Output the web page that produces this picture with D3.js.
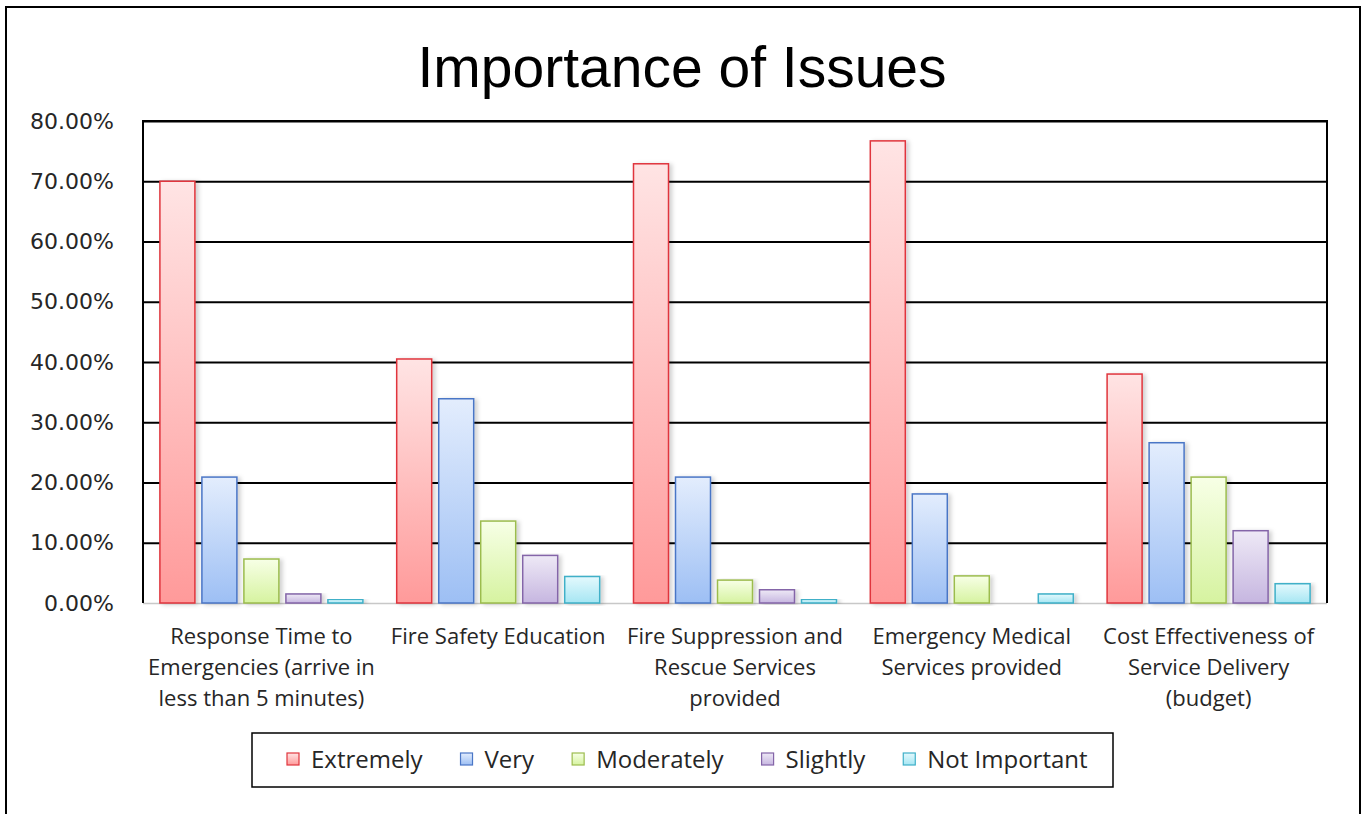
<!DOCTYPE html>
<html>
<head>
<meta charset="utf-8">
<script src="https://cdn.jsdelivr.net/npm/d3@7"></script>
<style>
  html, body { margin: 0; padding: 0; background: #fff; }
  svg { display: block; }
</style>
</head>
<body>
<svg id="chart" width="1363" height="814"></svg>
<script>
const categories = [
  ["Response Time to", "Emergencies (arrive in", "less than 5 minutes)"],
  ["Fire Safety Education"],
  ["Fire Suppression and", "Rescue Services", "provided"],
  ["Emergency Medical", "Services provided"],
  ["Cost Effectiveness of", "Service Delivery", "(budget)"]
];
const seriesNames = ["Extremely", "Very", "Moderately", "Slightly", "Not Important"];
const extremely   = [0.700, 0.405, 0.729, 0.767, 0.380];
const very        = [0.209, 0.339, 0.209, 0.181, 0.266];
const moderately  = [0.073, 0.136, 0.038, 0.045, 0.209];
const slightly    = [0.015, 0.079, 0.022, 0.000, 0.120];
const notImportant= [0.006, 0.044, 0.006, 0.015, 0.032];
const yTicks = [0, 0.1, 0.2, 0.3, 0.4, 0.5, 0.6, 0.7, 0.8];

(function () {
const seriesValues = [extremely, very, moderately, slightly, notImportant];
const palette = [
  {top:"#ffe4e4", bot:"#ff9a9a", stroke:"#e0353d"},
  {top:"#e3edfd", bot:"#9dbff4", stroke:"#4a76c6"},
  {top:"#f7ffe6", bot:"#d6f3a0", stroke:"#9cbc4e"},
  {top:"#eee9f6", bot:"#c6b6e0", stroke:"#8465a8"},
  {top:"#e4f9fd", bot:"#a6e6f3", stroke:"#3fb0c8"}
];
const labelFont = "Open Sans, Lato, Calibri, sans-serif";

const svg = d3.select("#chart");
const defs = svg.append("defs");
palette.forEach((p, i) => {
  const g = defs.append("linearGradient").attr("id", "g" + i)
    .attr("x1", 0).attr("y1", 0).attr("x2", 0).attr("y2", 1);
  g.append("stop").attr("offset", "0%").attr("stop-color", p.top);
  g.append("stop").attr("offset", "100%").attr("stop-color", p.bot);
});
const f = defs.append("filter").attr("id", "shadow")
  .attr("x", "-20%").attr("y", "-5%").attr("width", "150%").attr("height", "115%");
f.append("feDropShadow").attr("dx", 3).attr("dy", 1).attr("stdDeviation", 2)
  .attr("flood-color", "#000").attr("flood-opacity", 0.18);

// outer frame
svg.append("rect").attr("x", 6).attr("y", 7).attr("width", 1354).attr("height", 830)
  .attr("fill", "#fff").attr("stroke", "#000").attr("stroke-width", 2);

const pLeft = 143, pRight = 1327, pTop = 121, pBottom = 603;
const x0 = d3.scaleBand().domain(d3.range(categories.length)).range([pLeft, pRight])
  .paddingInner(0.1132).paddingOuter(0.0566);
const x1 = d3.scaleBand().domain(d3.range(seriesNames.length)).range([0, x0.bandwidth()])
  .paddingInner(1/6).paddingOuter(1/12);
const y = d3.scaleLinear().domain([0, 0.8]).range([pBottom, pTop]);

// title
svg.append("text").attr("x", 682).attr("y", 87).attr("text-anchor", "middle")
  .attr("font-family", "Liberation Sans, Arial, sans-serif").attr("font-size", 57)
  .attr("fill", "#000").text("Importance of Issues");

// gridlines + y labels
const yAxis = d3.axisLeft(y).tickValues(yTicks).tickSize(-(pRight - pLeft)).tickPadding(29)
  .tickFormat(d3.format(".2%"));
const ga = svg.append("g").attr("transform", `translate(${pLeft},0)`).call(yAxis);
ga.select(".domain").remove();
ga.selectAll(".tick line").attr("stroke", d => d === 0 ? "none" : "#000").attr("stroke-width", 2);
ga.selectAll(".tick text").attr("font-family", "DejaVu Sans, Verdana, sans-serif")
  .attr("font-size", 22).attr("fill", "#262626");

// x baseline
svg.append("line").attr("x1", pLeft).attr("x2", pRight).attr("y1", pBottom + 0.5).attr("y2", pBottom + 0.5)
  .attr("stroke", "#c8c8c8").attr("stroke-width", 1.5);

// bars
const groups = svg.append("g").selectAll("g").data(categories).join("g")
  .attr("transform", (d, i) => `translate(${x0(i)},0)`);
groups.selectAll("rect")
  .data((d, ci) => seriesValues.map((vals, si) => ({si, v: vals[ci]})).filter(o => o.v > 0))
  .join("rect")
  .attr("x", d => x1(d.si))
  .attr("y", d => y(d.v))
  .attr("width", x1.bandwidth())
  .attr("height", d => pBottom - y(d.v))
  .attr("fill", d => `url(#g${d.si})`)
  .attr("stroke", d => palette[d.si].stroke)
  .attr("stroke-width", 1.5)
  .attr("filter", "url(#shadow)");

// plot border (left axis, top, right)
svg.append("path")
  .attr("d", `M${pLeft},${pBottom}V${pTop}H${pRight}V${pBottom}`)
  .attr("fill", "none").attr("stroke", "#000").attr("stroke-width", 2);

// category labels
const lab = svg.append("g").selectAll("text").data(categories).join("text")
  .attr("text-anchor", "middle")
  .attr("font-family", labelFont)
  .attr("font-size", 22).attr("fill", "#262626")
  .attr("transform", (d, i) => `translate(${x0(i) + x0.bandwidth() / 2},644)`);
lab.selectAll("tspan").data(d => d).join("tspan")
  .attr("x", 0).attr("dy", (d, i) => i === 0 ? 0 : 31).text(d => d);

// legend
svg.append("rect").attr("x", 252).attr("y", 733).attr("width", 861).attr("height", 54)
  .attr("fill", "#fff").attr("stroke", "#000").attr("stroke-width", 1.5);
let lx = 287;
seriesNames.forEach((name, i) => {
  svg.append("rect").attr("x", lx).attr("y", 753).attr("width", 12).attr("height", 12)
    .attr("fill", `url(#g${i})`).attr("stroke", palette[i].stroke).attr("stroke-width", 1.2);
  const t = svg.append("text").attr("x", lx + 24).attr("y", 768)
    .attr("font-family", labelFont)
    .attr("font-size", 24).attr("fill", "#262626").text(name);
  lx = lx + 24 + t.node().getComputedTextLength() + 38;
});
})();
</script>
</body>
</html>
